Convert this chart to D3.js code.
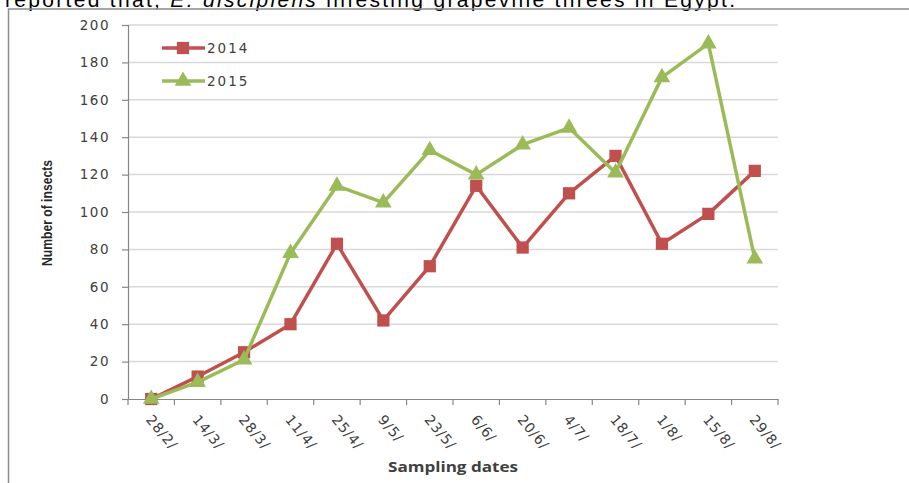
<!DOCTYPE html>
<html><head><meta charset="utf-8">
<script src="https://cdn.jsdelivr.net/npm/d3@7"></script>
<style>body{margin:0;background:#fff}svg{display:block}</style>
</head><body>
<svg id="c" width="909" height="483"></svg>
<script>
const categories = ["28/2/","14/3/","28/3/","11/4/","25/4/","9/5/","23/5/","6/6/","20/6/","4/7/","18/7/","1/8/","15/8/","29/8/"];
const series2014 = [0,12,25,40,83,42,71,114,81,110,130,83,99,122];
const series2015 = [0,9,21,78,114,105,133,120,136,145,121,172,190,75];
const yTicks = [0,20,40,60,80,100,120,140,160,180,200];
const seriesNames = ["2014","2015"];

(function(){
const svg = d3.select("#c");
const red = "#C0504D", green = "#9BBB59";
const tickFont = "'DejaVu Sans', sans-serif";

// caption text cut at top
const cap = svg.append("text").attr("x",5).attr("y",6.5)
  .attr("font-family","'Liberation Sans', Arial, sans-serif").attr("font-size",21).attr("fill","#000")
  .attr("textLength",730).attr("lengthAdjust","spacing");
cap.append("tspan").text("reported that, ");
cap.append("tspan").attr("font-style","italic").text("E. discipiens");
cap.append("tspan").text(" infesting grapevine threes in Egypt.");

// chart border
svg.append("path").attr("d","M8.5,490 L8.5,9 L915,9").attr("fill","none").attr("stroke","#8c8c8c").attr("stroke-width",1.5);

const pL = 128, pR = 778, pT = 25, pB = 399;
const x = d3.scaleBand().domain(categories).range([pL,pR]);
const y = d3.scaleLinear().domain([0,200]).range([pB,pT]);
const cx = d => x(d) + x.bandwidth()/2;

// gridlines
svg.append("g").selectAll("line").data(yTicks.filter(t=>t>0)).join("line")
  .attr("x1",pL).attr("x2",pR).attr("y1",d=>y(d)).attr("y2",d=>y(d))
  .attr("stroke","#d9d9d9").attr("stroke-width",1.5);

// y axis
const ya = svg.append("g").attr("transform",`translate(${pL},0)`)
  .call(d3.axisLeft(y).tickValues(yTicks).tickSize(6).tickPadding(12).tickFormat(d3.format("d")));
ya.select(".domain").attr("stroke","#868686").attr("stroke-width",1.2);
ya.selectAll(".tick line").attr("stroke","#868686").attr("stroke-width",1.2);
ya.selectAll("text").attr("font-family",tickFont).attr("font-size",13.5).attr("fill","#404040").attr("letter-spacing",1.5);

// x axis
const xa = svg.append("g").attr("transform",`translate(0,${pB})`)
  .call(d3.axisBottom(x).tickSize(0).tickFormat(""));
xa.select(".domain").attr("stroke","#868686").attr("stroke-width",1.2);
const bounds = d3.range(categories.length+1).map(i => pL + i*x.step());
svg.append("g").selectAll("line").data(bounds).join("line")
  .attr("x1",d=>d).attr("x2",d=>d).attr("y1",pB).attr("y2",pB+6)
  .attr("stroke","#868686").attr("stroke-width",1.2);
svg.append("g").selectAll("text").data(categories).join("text")
  .attr("transform",d=>`translate(${cx(d)-6},${pB+21}) rotate(50)`)
  .attr("font-family",tickFont).attr("font-size",14).attr("fill","#404040").attr("letter-spacing",0.8)
  .text(d=>d);

// axis titles
svg.append("text").attr("x",453).attr("y",472).attr("text-anchor","middle")
  .attr("font-family","'Open Sans', sans-serif").attr("font-weight","bold").attr("font-size",14)
  .attr("fill","#404040").attr("textLength",130).attr("lengthAdjust","spacingAndGlyphs").text("Sampling dates");
svg.append("text").attr("transform","translate(52,213) rotate(-90)").attr("text-anchor","middle")
  .attr("font-family","'Liberation Sans Narrow', 'Liberation Sans', sans-serif").attr("font-weight","bold").attr("font-size",15)
  .attr("fill","#262626").attr("textLength",106).attr("lengthAdjust","spacingAndGlyphs").text("Number of insects");

// lines
const line = d3.line().x((d,i)=>cx(categories[i])).y(d=>y(d));
const sq = d3.symbol().type(d3.symbolSquare).size(150);
const tri = d3.symbol().type(d3.symbolTriangle).size(120);

function drawSeries(vals,color,sym){
  svg.append("path").datum(vals).attr("d",line).attr("fill","none").attr("stroke",color).attr("stroke-width",3.5).attr("stroke-linejoin","round");
  svg.append("g").selectAll("path").data(vals).join("path")
    .attr("transform",(d,i)=>`translate(${cx(categories[i])},${y(d)})`).attr("d",sym).attr("fill",color);
}
drawSeries(series2014,red,sq);
drawSeries(series2015,green,tri);

// legend
const leg = [{n:seriesNames[0],c:red,s:sq,y:48},{n:seriesNames[1],c:green,s:tri,y:81}];
leg.forEach(l=>{
  svg.append("line").attr("x1",162).attr("x2",205).attr("y1",l.y).attr("y2",l.y).attr("stroke",l.c).attr("stroke-width",3.5);
  svg.append("path").attr("transform",`translate(183,${l.y})`).attr("d",l.s).attr("fill",l.c);
  svg.append("text").attr("x",207).attr("y",l.y+5).attr("font-family",tickFont).attr("font-size",13.5)
    .attr("fill","#404040").attr("letter-spacing",2).text(l.n);
});
})();
</script>
</body></html>
